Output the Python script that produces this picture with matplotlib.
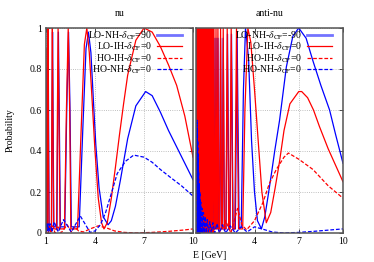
import matplotlib
matplotlib.use("Agg")
import matplotlib.pyplot as plt

plt.rcParams['font.family'] = ['Liberation Serif', 'DejaVu Serif']
plt.rcParams['mathtext.fontset'] = 'stix'

# ---- nu panel (E [GeV], probability) ----
nu_lo_nh = [(1.00, 0.80), (1.035, 0.05), (1.08, 0.03), (1.11, 0.60), (1.13, 0.98), (1.155, 0.60),
            (1.19, 0.03), (1.34, 0.03), (1.37, 0.60), (1.40, 0.98), (1.43, 0.60), (1.48, 0.03),
            (1.67, 0.03), (1.72, 0.60), (1.76, 0.98), (1.81, 0.60), (1.88, 0.03), (2.15, 0.03),
            (2.27, 0.60), (2.38, 0.98), (2.47, 0.60), (2.55, 0.03), (3.03, 0.03), (3.25, 0.50),
            (3.45, 0.90), (3.60, 0.98), (3.75, 0.88), (3.90, 0.65), (4.05, 0.43), (4.25, 0.22),
            (4.50, 0.08), (4.80, 0.04), (5.00, 0.06), (5.25, 0.13), (5.56, 0.26), (6.00, 0.46),
            (6.50, 0.62), (7.10, 0.69), (7.50, 0.67), (8.00, 0.59), (8.50, 0.50), (9.00, 0.42),
            (9.50, 0.34), (10.00, 0.26)]
nu_lo_ih = [(1.00, 0.90), (1.03, 0.05), (1.07, 0.02), (1.10, 0.60), (1.12, 1.00), (1.14, 0.60),
            (1.18, 0.02), (1.33, 0.02), (1.36, 0.60), (1.39, 1.00), (1.42, 0.60), (1.47, 0.02),
            (1.65, 0.02), (1.70, 0.60), (1.74, 1.00), (1.79, 0.60), (1.86, 0.02), (2.13, 0.02),
            (2.25, 0.60), (2.36, 1.00), (2.45, 0.60), (2.52, 0.02), (2.93, 0.02), (3.15, 0.50),
            (3.35, 0.92), (3.50, 1.00), (3.65, 0.88), (3.80, 0.68), (4.00, 0.40), (4.20, 0.17),
            (4.40, 0.05), (4.55, 0.02), (4.75, 0.05), (5.00, 0.17), (5.25, 0.32), (5.50, 0.48),
            (5.75, 0.63), (6.00, 0.77), (6.50, 0.94), (7.00, 1.00), (7.50, 0.98), (8.00, 0.91),
            (8.50, 0.82), (9.00, 0.72), (9.50, 0.57), (10.00, 0.37)]
nu_ho_ih = [(1.00, 0.00), (1.07, 0.03), (1.14, 0.00), (1.22, 0.035), (1.30, 0.00), (1.42, 0.035),
            (1.55, 0.00), (1.72, 0.035), (1.92, 0.00), (2.30, 0.04), (2.55, 0.005), (2.75, 0.03),
            (3.00, 0.01), (3.30, 0.005), (3.70, 0.02), (4.20, 0.035), (4.70, 0.025), (5.20, 0.01),
            (5.80, 0.003), (6.50, 0.00), (7.50, 0.003), (8.50, 0.008), (9.50, 0.015), (10.00, 0.02)]
nu_ho_nh = [(1.00, 0.03), (1.04, 0.05), (1.08, 0.01), (1.13, 0.045), (1.18, 0.005), (1.25, 0.045),
            (1.36, 0.005), (1.50, 0.055), (1.75, 0.005), (2.07, 0.065), (2.55, 0.005), (3.10, 0.083),
            (3.70, 0.003), (4.00, 0.01), (4.33, 0.04), (4.65, 0.10), (4.95, 0.18), (5.36, 0.29),
            (5.87, 0.35), (6.37, 0.38), (7.00, 0.37), (7.50, 0.345), (8.00, 0.31), (8.64, 0.27),
            (9.30, 0.23), (10.00, 0.18)]

# ---- anti-nu panel ----
anu_lo_nh = [(0.10, 0.0), (0.11, 1.0), (0.125, 0.0), (0.14, 1.0), (0.155, 0.0), (0.17, 1.0),
             (0.19, 0.0), (0.21, 1.0), (0.23, 0.0), (0.25, 1.0), (0.275, 0.0), (0.30, 1.0),
             (0.33, 0.0), (0.36, 1.0), (0.39, 0.0), (0.42, 1.0), (0.46, 0.0), (0.50, 1.0),
             (0.55, 0.0), (0.60, 1.0), (0.65, 0.0), (0.71, 1.0), (0.77, 0.0), (0.84, 1.0),
             (0.91, 0.0), (0.99, 1.0), (1.07, 0.0), (1.15, 1.0), (1.20, 0.0), (1.25, 0.95),
             (1.30, 0.02), (1.34, 0.02), (1.39, 0.95), (1.44, 0.02), (1.47, 0.02), (1.52, 0.95),
             (1.58, 0.02), (1.64, 0.02), (1.70, 0.95), (1.77, 0.02), (1.82, 0.02), (1.88, 0.95),
             (1.96, 0.02), (2.07, 0.02), (2.17, 0.97), (2.27, 0.02), (2.34, 0.02), (2.44, 0.97),
             (2.55, 0.02), (2.70, 0.02), (2.82, 0.98), (2.96, 0.02), (3.10, 0.03), (3.25, 0.70),
             (3.39, 1.00), (3.60, 0.85), (3.80, 0.45), (4.00, 0.20), (4.20, 0.06), (4.47, 0.02),
             (4.70, 0.08), (4.92, 0.18), (5.15, 0.29), (5.37, 0.40), (5.70, 0.55), (6.16, 0.81),
             (6.60, 0.96), (7.00, 1.00), (7.50, 0.95), (7.96, 0.84), (8.50, 0.72), (9.09, 0.60),
             (9.50, 0.48), (10.00, 0.34)]
anu_lo_ih = [(0.10, 0.0), (0.12, 1.0), (0.13, 0.0), (0.14, 1.0), (0.15, 0.0), (0.16, 1.0),
             (0.17, 0.0), (0.18, 1.0), (0.19, 0.0), (0.20, 1.0), (0.21, 0.0), (0.22, 1.0),
             (0.233, 0.0), (0.245, 1.0), (0.258, 0.0), (0.27, 1.0), (0.285, 0.0), (0.30, 1.0),
             (0.315, 0.0), (0.33, 1.0), (0.345, 0.0), (0.36, 1.0), (0.375, 0.0), (0.39, 1.0),
             (0.41, 0.0), (0.43, 1.0), (0.45, 0.0), (0.47, 1.0), (0.49, 0.0), (0.51, 1.0),
             (0.535, 0.0), (0.56, 1.0), (0.585, 0.0), (0.61, 1.0), (0.635, 0.0), (0.66, 1.0),
             (0.69, 0.0), (0.72, 1.0), (0.75, 0.0), (0.78, 1.0), (0.815, 0.0), (0.85, 1.0),
             (0.885, 0.0), (0.92, 1.0), (0.96, 0.0), (1.00, 1.0), (1.04, 0.0), (1.08, 1.0),
             (1.12, 0.0), (1.16, 1.0), (1.20, 0.0), (1.25, 1.0), (1.30, 0.02), (1.34, 0.02),
             (1.39, 1.0), (1.44, 0.02), (1.47, 0.02), (1.52, 1.0), (1.58, 0.02), (1.64, 0.02),
             (1.70, 1.0), (1.77, 0.02), (1.82, 0.02), (1.88, 1.0), (1.96, 0.02), (2.06, 0.02),
             (2.15, 1.0), (2.25, 0.02), (2.32, 0.02), (2.42, 1.0), (2.53, 0.02), (2.66, 0.02),
             (2.78, 1.0), (2.92, 0.02), (3.20, 0.02), (3.35, 0.60), (3.55, 1.00), (3.75, 0.93),
             (4.00, 0.70), (4.25, 0.45), (4.50, 0.20), (4.80, 0.05), (5.10, 0.10), (5.40, 0.22),
             (5.70, 0.35), (6.00, 0.50), (6.40, 0.63), (7.00, 0.69), (7.20, 0.69), (7.60, 0.66),
             (8.00, 0.60), (8.40, 0.52), (9.00, 0.41), (9.50, 0.33), (10.00, 0.25)]
anu_ho_ih = [(0.10, 0.0), (0.115, 1.0), (0.135, 0.0), (0.155, 1.0), (0.175, 0.0), (0.195, 1.0),
             (0.215, 0.0), (0.24, 1.0), (0.265, 0.0), (0.29, 0.95), (0.32, 0.0), (0.35, 0.9),
             (0.38, 0.0), (0.41, 0.85), (0.45, 0.0), (0.49, 0.8), (0.53, 0.0), (0.58, 0.7),
             (0.63, 0.0), (0.68, 0.6), (0.74, 0.0), (0.80, 0.5), (0.87, 0.0), (0.95, 0.35),
             (1.03, 0.0), (1.12, 0.25), (1.22, 0.0), (1.40, 0.1), (1.60, 0.0), (1.88, 0.04),
             (1.96, 0.01), (2.04, 0.06), (2.40, 0.0), (2.85, 0.12), (3.15, 0.04), (3.46, 0.015),
             (4.00, 0.06), (4.58, 0.15), (5.00, 0.24), (5.48, 0.31), (6.00, 0.37), (6.30, 0.39),
             (7.00, 0.36), (7.96, 0.31), (9.00, 0.23), (10.00, 0.17)]
anu_ho_nh = [(0.10, 0.0), (0.11, 0.55), (0.12, 0.0), (0.13, 0.50), (0.14, 0.0), (0.15, 0.45),
             (0.165, 0.0), (0.18, 0.38), (0.195, 0.0), (0.21, 0.30), (0.23, 0.0), (0.25, 0.24),
             (0.27, 0.0), (0.30, 0.20), (0.33, 0.0), (0.36, 0.15), (0.40, 0.0), (0.44, 0.12),
             (0.49, 0.0), (0.54, 0.10), (0.60, 0.0), (0.66, 0.08), (0.73, 0.0), (0.80, 0.065),
             (0.88, 0.0), (0.97, 0.055), (1.07, 0.0), (1.18, 0.05), (1.30, 0.0), (1.45, 0.045),
             (1.62, 0.0), (1.82, 0.04), (2.05, 0.0), (2.35, 0.035), (2.70, 0.0), (3.10, 0.03),
             (3.50, 0.005), (4.00, 0.03), (4.50, 0.02), (5.20, 0.005), (6.00, 0.0), (7.00, 0.003),
             (8.00, 0.008), (9.00, 0.014), (10.00, 0.02)]

nu_labels = ['LO-NH-$\\delta_{\\mathrm{CP}}$=90', 'LO-IH-$\\delta_{\\mathrm{CP}}$=0',
             'HO-IH-$\\delta_{\\mathrm{CP}}$=0', 'HO-NH-$\\delta_{\\mathrm{CP}}$=0']
anu_labels = ['LO-NH-$\\delta_{\\mathrm{CP}}$=-90', 'LO-IH-$\\delta_{\\mathrm{CP}}$=0',
              'HO-IH-$\\delta_{\\mathrm{CP}}$=0', 'HO-NH-$\\delta_{\\mathrm{CP}}$=0']

styles = [dict(color='#0000ff', ls='-'), dict(color='#ff0000', ls='-'),
          dict(color='#ff0000', ls=(0, (3, 1.5))), dict(color='#0000ff', ls=(0, (3, 1.5)))]

fig = plt.figure(figsize=(3.74, 2.62), dpi=100)
ax1 = fig.add_axes([46 / 374, 29 / 262, 147 / 374, 205 / 262])
ax2 = fig.add_axes([195.5 / 374, 29 / 262, 147.5 / 374, 205 / 262])


def draw(ax, series, labels, title, xlo, xticks):
    for s, lab, st in zip(series, labels, styles):
        E, P = zip(*s)
        ax.plot(E, P, lw=0.9, label=lab, **st)
    ax.set_xlim(xlo, 10)
    ax.set_ylim(0, 1)
    ax.set_xticks(xticks)
    ax.set_yticks([0, 0.2, 0.4, 0.6, 0.8, 1])
    ax.grid(True, color='#aaaaaa', ls=':', lw=0.6)
    ax.tick_params(direction='in', top=True, right=True, length=3, width=0.6,
                   labelsize=7, colors='#333333', labelcolor='black', pad=3)
    for sp in ax.spines.values():
        sp.set_color('#555555')
        sp.set_linewidth(1.1)
    ax.set_title(title, fontsize=7, pad=9)
    leg = ax.legend(loc='upper right', bbox_to_anchor=(0.925, 0.995), frameon=False,
                    markerfirst=False, fontsize=7, handlelength=2.6, handletextpad=0.5,
                    labelspacing=-0.1, borderaxespad=0.0, borderpad=0.0)
    h = leg.legend_handles[0]
    h.set_linewidth(2)
    h.set_alpha(0.55)


draw(ax1, [nu_lo_nh, nu_lo_ih, nu_ho_ih, nu_ho_nh], nu_labels, 'nu', 1, [1, 4, 7, 10])
ax1.set_yticklabels(['0', '0.2', '0.4', '0.6', '0.8', '1'])
draw(ax2, [anu_lo_nh, anu_lo_ih, anu_ho_ih, anu_ho_nh], anu_labels, 'anti-nu', 0, [4, 7, 10])
ax2.set_yticklabels([])

fig.text(10 / 374, 1 - 130 / 262, 'Probability', rotation=90, ha='center', va='center', fontsize=7)
fig.text(210 / 374, 1 - 255 / 262, 'E [GeV]', ha='center', va='center', fontsize=7)

fig.savefig('out.png', dpi=100)
